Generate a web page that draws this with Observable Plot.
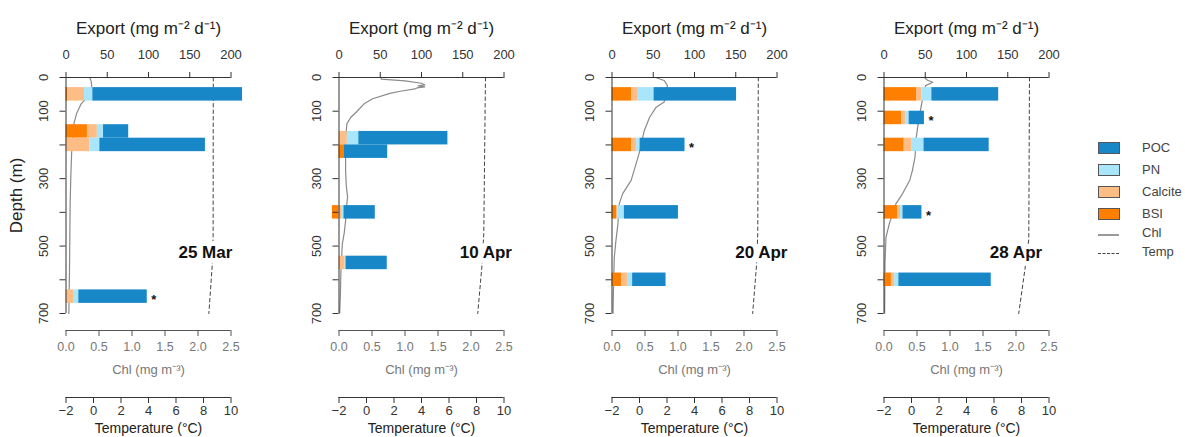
<!DOCTYPE html>
<html><head><meta charset="utf-8">
<script src="https://cdn.jsdelivr.net/npm/d3@7"></script>
<script src="https://cdn.jsdelivr.net/npm/@observablehq/plot@0.6"></script>
<style>
html,body{margin:0;padding:0;background:#fff;}
#chart{position:relative;width:1185px;height:437px;overflow:hidden;font-family:"Liberation Sans",Arial,Helvetica,sans-serif;}
#chart svg{position:absolute;top:0;background:transparent;overflow:visible;}
.lg{position:absolute;font-size:13px;color:#444;line-height:14px;}
.box{position:absolute;width:20px;height:10px;border:1px solid #555;}
.ln{position:absolute;width:21px;height:0;}
</style></head>
<body><div id="chart"></div>
<script>
// ---------- data ----------
const panels = ["25 Mar", "10 Apr", "20 Apr", "28 Apr"];
const components = ["BSI", "Calcite", "PN", "POC"];
const componentColors = ["#ff7f00", "#fdbd84", "#a9e5fb", "#1787c8"];
const trapDepth = [[50, 160, 200, 650], [180, 220, 400, 550], [50, 200, 400, 600], [50, 120, 200, 400, 600]];
const bsi     = [[2.5, 26, 0, 0], [0, 6, -8, 0], [24, 24, 6, 12], [40, 21.5, 24.5, 17, 9]];
const calcite = [[20, 12, 29, 10], [10, 0, 4, 7.5], [7, 6, 1, 7], [6, 5, 9, 3, 4]];
const pn      = [[10, 7.5, 12, 5.5], [14, 0, 2, 1], [20, 4, 8, 6], [12, 4, 15, 3, 5]];
const poc     = [[181.5, 30.5, 128, 83], [108, 53, 38, 50], [100, 54.5, 65.5, 40.5], [81, 18.5, 79, 23, 112]];
const flaggedDepth = [[650], [], [200], [120, 400]];

const chlDepth = [
  [0, 10, 25, 50, 78, 107, 137, 180, 226, 300, 374, 470, 573, 650, 700],
  [0, 5, 10, 17, 22, 25, 28, 31, 34, 40, 47, 63, 78, 103, 118, 137, 177, 230, 276, 320, 355, 390, 424, 460, 494, 572, 650, 700],
  [0, 9, 24, 50, 73, 88, 118, 157, 190, 226, 266, 305, 345, 375, 434, 483, 533, 600, 700],
  [0, 8, 14, 24, 50, 78, 110, 147, 177, 236, 276, 305, 345, 375, 434, 474, 550, 700]
];
const chlValue = [
  [0.36, 0.38, 0.39, 0.36, 0.23, 0.16, 0.12, 0.10, 0.085, 0.072, 0.063, 0.058, 0.053, 0.047, 0.043],
  [0.64, 0.64, 1.0, 1.25, 1.3, 1.2, 1.3, 1.18, 1.15, 0.95, 0.77, 0.51, 0.38, 0.26, 0.18, 0.12, 0.10, 0.10, 0.10, 0.11, 0.13, 0.11, 0.10, 0.08, 0.05, 0.03, 0.02, 0.01],
  [0.66, 0.79, 0.84, 0.82, 0.79, 0.67, 0.57, 0.49, 0.45, 0.41, 0.35, 0.29, 0.16, 0.11, 0.09, 0.06, 0.035, 0.025, 0.015],
  [0.61, 0.66, 0.74, 0.63, 0.60, 0.57, 0.54, 0.51, 0.49, 0.47, 0.43, 0.39, 0.28, 0.18, 0.08, 0.03, 0.015, 0.01]
];
const tempDepth = [[0, 470, 560, 700], [0, 463, 552, 700], [0, 463, 552, 700], [0, 480, 557, 700]];
const tempValue = [[8.71, 8.70, 8.63, 8.39], [8.65, 8.53, 8.41, 8.09], [8.64, 8.60, 8.52, 8.23], [8.58, 8.53, 8.29, 7.80]];

const exportTicks = [0, 50, 100, 150, 200];
const depthTicks = [0, 100, 200, 300, 400, 500, 600, 700];
const depthTickLabels = [0, 100, 300, 500, 700];
const chlTicks = [0, 0.5, 1, 1.5, 2, 2.5];
const tempTicks = [-2, 0, 2, 4, 6, 8, 10];
const legendLabels = ["POC", "PN", "Calcite", "BSI"];

// ---------- layout ----------
const chart = document.getElementById("chart");
const FW = 165, ML = 65.5, MR = 45, MT = 77, H = 437, MB = 437 - 313;
const panelX0 = [65.5, 338.5, 611, 883.5];
const dateLabelAt = [169, 178, 181, 160];
const font = "'Liberation Sans', Arial, Helvetica, sans-serif";
const base = {width: ML + FW + MR, height: H, marginLeft: ML, marginRight: MR, marginTop: MT, marginBottom: MB,
  style: {fontFamily: font, fontSize: "13px", background: "transparent", overflow: "visible", color: "#333"}};

function place(svg, p) { svg.style.left = (panelX0[p] - ML) + "px"; chart.appendChild(svg); }

panels.forEach((name, p) => {
  // stacked bars table
  const rows = [], flagged = [];
  trapDepth[p].forEach((d, i) => {
    let pos = 0, neg = 0;
    [bsi, calcite, pn, poc].forEach((arr, k) => {
      const v = arr[p][i];
      if (v >= 0) { rows.push({depth: d, component: components[k], x1: pos, x2: pos + v}); pos += v; }
      else { rows.push({depth: d, component: components[k], x1: neg + v, x2: neg}); neg += v; }
    });
    if (flaggedDepth[p].includes(d)) flagged.push({depth: d, total: pos});
  });
  const chl = chlDepth[p].map((d, i) => ({depth: d, v: chlValue[p][i]}));
  const temp = tempDepth[p].map((d, i) => ({depth: d, v: tempValue[p][i]}));

  // Chl layer
  place(Plot.plot({...base,
    x: {domain: [0, 2.5], axis: null}, y: {domain: [0, 700], reverse: true, axis: null},
    marks: [
      Plot.line(chl, {x: "v", y: "depth", stroke: "#8a8a8a", strokeWidth: 1.2}),
      Plot.ruleY([700], {x1: 0, x2: 2.5, dy: 17, stroke: "#555"}),
      Plot.axisX({anchor: "bottom", ticks: chlTicks, tickFormat: d3.format(".1f"), tickSize: 6, tickPadding: 6, dy: 17, label: null, color: "#555", fill: "#777", fontSize: 12.5}),
      Plot.text(["Chl (mg m\u207B\u00B3)"], {text: d => d, frameAnchor: "bottom", lineAnchor: "middle", dy: 56, fill: "#777", fontSize: 13})
    ]}), p);

  // Temperature layer
  place(Plot.plot({...base,
    x: {domain: [-2, 10], axis: null}, y: {domain: [0, 700], reverse: true, axis: null},
    marks: [
      Plot.line(temp, {x: "v", y: "depth", stroke: "#444", strokeWidth: 1, strokeDasharray: "3.5,3"}),
      Plot.ruleY([700], {x1: -2, x2: 10, dy: 84, stroke: "#333"}),
      Plot.axisX({anchor: "bottom", ticks: tempTicks, tickSize: 6, tickPadding: 2, dy: 84, label: null, color: "#333", fontSize: 13}),
      Plot.text(["Temperature (\u00B0C)"], {text: d => d, frameAnchor: "bottom", lineAnchor: "middle", dy: 115, fill: "#222", fontSize: 14})
    ]}), p);

  // Export layer (top)
  place(Plot.plot({...base,
    x: {domain: [0, 200], axis: null}, y: {domain: [0, 700], reverse: true, axis: null},
    color: {domain: components, range: componentColors},
    marks: [
      Plot.rectX(rows, {x1: "x1", x2: "x2", y1: d => d.depth - 20, y2: d => d.depth + 20, fill: "component"}),
      Plot.ruleY([0], {x1: 0, x2: 200, stroke: "#333"}),
      Plot.ruleX([0], {y1: 0, y2: 700, stroke: "#333"}),
      Plot.axisX({anchor: "top", ticks: exportTicks, tickSize: 6, tickPadding: 13, label: null, color: "#333", fontSize: 13}),
      Plot.axisY({anchor: "left", ticks: depthTicks, tickFormat: d => depthTickLabels.includes(d) ? String(d) : "", tickSize: 6, tickPadding: 12, tickRotate: -90, label: null, color: "#333", fontSize: 13}),
      Plot.text(flagged, {x: "total", y: "depth", text: () => "*", dx: 4, dy: 3, fontWeight: "bold", fontSize: 13, fill: "#111", textAnchor: "start"}),
      Plot.text([{t: name, x: dateLabelAt[p], y: 520}], {x: "x", y: "y", text: "t", fontWeight: "bold", fontSize: 17, fill: "#111", stroke: "white", strokeWidth: 10}),
      Plot.text(["Export (mg m\u207B\u00B2 d\u207B\u00B9)"], {text: d => d, frameAnchor: "top", lineAnchor: "middle", dy: -49, fontSize: 17, fill: "#222"}),
      p === 0 ? Plot.text(["Depth (m)"], {text: d => d, frameAnchor: "left", textAnchor: "middle", lineAnchor: "middle", dx: -49, rotate: -90, fontSize: 17, fill: "#222"}) : null
    ]}), p);
});

// ---------- legend ----------
const legendColors = legendLabels.map(l => componentColors[components.indexOf(l)]);
legendLabels.forEach((l, i) => {
  const top = 141.5 + i * 22;
  const b = document.createElement("div"); b.className = "box";
  b.style.left = "1098px"; b.style.top = top + "px"; b.style.background = legendColors[i];
  chart.appendChild(b);
  const t = document.createElement("div"); t.className = "lg"; t.textContent = l;
  t.style.left = "1142px"; t.style.top = (top - 1) + "px"; chart.appendChild(t);
});
[["Chl", "2px solid #999", 234], ["Temp", "1px dashed #444", 253]].forEach(([l, border, y]) => {
  const s = document.createElement("div"); s.className = "ln";
  s.style.left = "1098px"; s.style.top = y + "px"; s.style.borderTop = border; chart.appendChild(s);
  const t = document.createElement("div"); t.className = "lg"; t.textContent = l;
  t.style.left = "1142px"; t.style.top = (y - 8) + "px"; chart.appendChild(t);
});
</script>
</body></html>
